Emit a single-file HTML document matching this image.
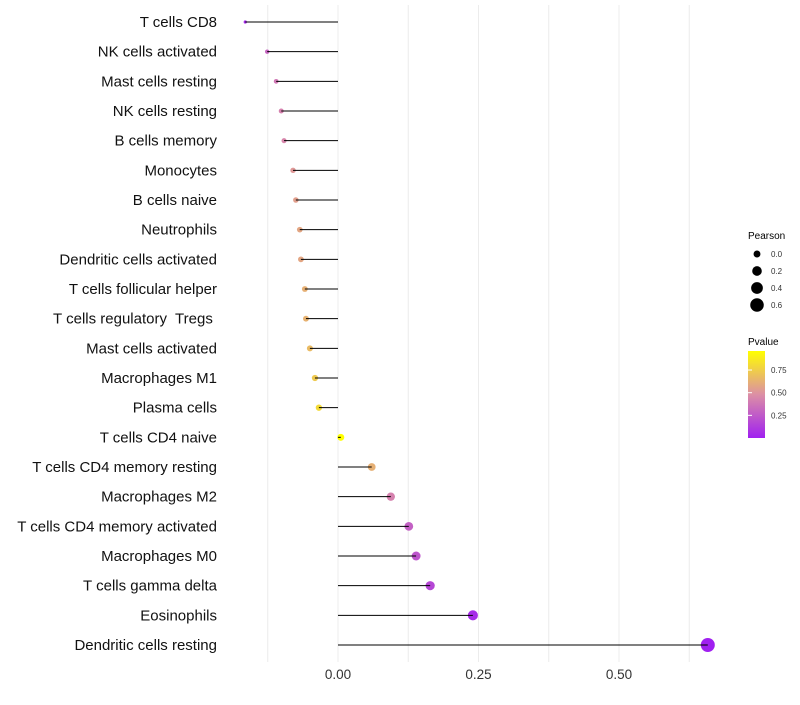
<!DOCTYPE html>
<html><head><meta charset="utf-8"><style>
body{margin:0;background:#fff;font-family:"Liberation Sans",sans-serif;}
svg text{font-family:"Liberation Sans",sans-serif;white-space:pre;}
</style></head><body>
<svg id="chart" width="800" height="700" xmlns="http://www.w3.org/2000/svg">
<defs><linearGradient id="pg" x1="0" y1="1" x2="0" y2="0">
<stop offset="0" stop-color="#a020f0"/><stop offset="0.5" stop-color="#dc8fa5"/><stop offset="1" stop-color="#ffff00"/>
</linearGradient></defs>
<g id="grid"></g>
<g id="marks"></g>
<g id="ylab"></g>
<g id="xlab"></g>
<g>
<text x="748" y="239" font-size="10">Pearson</text>
<g id="sizeleg"></g>
</g>
<g>
<text x="748" y="345" font-size="10">Pvalue</text>
<rect x="748" y="351" width="17" height="87" fill="url(#pg)"/>
<g id="colleg"></g>
</g>
</svg>
<script>
const categories=["T cells CD8","NK cells activated","Mast cells resting","NK cells resting","B cells memory","Monocytes","B cells naive","Neutrophils","Dendritic cells activated","T cells follicular helper","T cells regulatory  Tregs ","Mast cells activated","Macrophages M1","Plasma cells","T cells CD4 naive","T cells CD4 memory resting","Macrophages M2","T cells CD4 memory activated","Macrophages M0","T cells gamma delta","Eosinophils","Dendritic cells resting"];
const pearson=[-0.165,-0.126,-0.110,-0.101,-0.096,-0.080,-0.075,-0.068,-0.066,-0.059,-0.057,-0.050,-0.041,-0.034,0.005,0.060,0.094,0.126,0.139,0.164,0.240,0.658];
const pvalue=[0.03,0.3,0.38,0.42,0.44,0.52,0.55,0.58,0.58,0.62,0.63,0.67,0.73,0.80,0.97,0.62,0.42,0.28,0.23,0.17,0.05,0.0001];
const xTicks=[0,0.25,0.5];
const xTickLabels=["0.00","0.25","0.50"];
const sizeLegend=[0,0.2,0.4,0.6];
const colorTicks=[0.25,0.5,0.75];
const NS="http://www.w3.org/2000/svg";
const X=v=>338+v*562;
const Y=i=>22+i*(623/(categories.length-1));
const vmin=Math.min(...pearson),vmax=Math.max(...pearson);
const R=v=>Math.sqrt(2.6+46.4*(v-vmin)/(vmax-vmin));
function lerp(a,b,t){return a.map((x,i)=>Math.round(x+(b[i]-x)*t));}
function col(p){const t=p/0.96;const c0=[160,32,240],c1=[220,143,165],c2=[255,255,0];
 const c=t<0.5?lerp(c0,c1,t/0.5):lerp(c1,c2,Math.min(1,(t-0.5)/0.5));return `rgb(${c.join(',')})`;}
function mk(tag,attrs,parent){const e=document.createElementNS(NS,tag);for(const k in attrs)e.setAttribute(k,attrs[k]);parent.appendChild(e);return e;}
const grid=document.getElementById('grid'),marks=document.getElementById('marks'),ylab=document.getElementById('ylab'),xlab=document.getElementById('xlab');
[-0.125,0,0.125,0.25,0.375,0.5,0.625].forEach(v=>{const l=mk('line',{x1:X(v),x2:X(v),y1:5,y2:662,stroke:'#ececec','stroke-width':1},grid);

});
categories.forEach((c,i)=>{
 const p=mk('circle',{cx:X(pearson[i]),cy:Y(i),r:R(pearson[i]),fill:col(pvalue[i])},marks);
 
 
 const l=mk('line',{x1:X(0),x2:X(pearson[i]),y1:Y(i),y2:Y(i),stroke:'#000','stroke-width':1},marks);
 
 
 const t=mk('text',{x:217,y:Y(i)+5,'text-anchor':'end','font-size':15,fill:'#111'},ylab);t.textContent=c;
 
 
});
xTicks.forEach((v,i)=>{const t=mk('text',{x:X(v),y:679,'text-anchor':'middle','font-size':13.5,fill:'#333'},xlab);t.textContent=xTickLabels[i];
 
 });
const sl=document.getElementById('sizeleg');
sizeLegend.forEach((v,i)=>{const y=254+i*17;
 const c=mk('circle',{cx:757,cy:y,r:R(v),fill:'#000'},sl);
 
 
 const t=mk('text',{x:771,y:y+3,'font-size':8,fill:'#333'},sl);t.textContent=v.toFixed(1);
 
 });
const cl=document.getElementById('colleg');
colorTicks.forEach(v=>{const y=438-v/0.96*87;
 const l=mk('line',{x1:748,x2:752,y1:y,y2:y,stroke:'#fff'},cl);
 
 
 const t=mk('text',{x:771,y:y+3,'font-size':8,fill:'#333'},cl);t.textContent=v.toFixed(2);
 
 });
</script>
</body></html>
